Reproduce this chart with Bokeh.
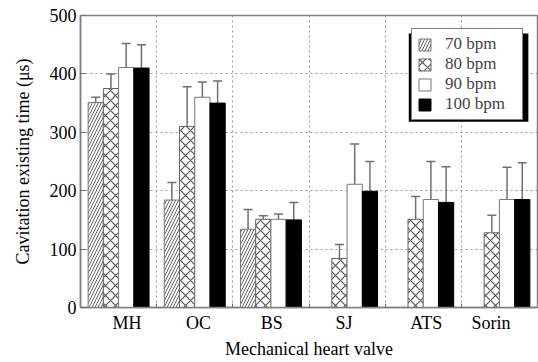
import numpy as np
from bokeh.plotting import figure
from bokeh.models import (ColumnDataSource, FixedTicker, Legend, LegendItem, Whisker,
                          TeeHead, Range1d, BoxAnnotation)
from bokeh.embed import file_html
from bokeh.resources import INLINE

valves = ["MH", "OC", "BS", "SJ", "ATS", "Sorin"]
label_pos = [0.61, 1.55, 2.51, 3.46, 4.54, 5.39]
series_names = ["70 bpm", "80 bpm", "90 bpm", "100 bpm"]
bpm70 = [351, 184, 134, np.nan, np.nan, np.nan]
bpm70_up = [360, 214, 168, np.nan, np.nan, np.nan]
bpm80 = [375, 310, 151, 84, 151, 128]
bpm80_up = [400, 378, 157, 108, 190, 158]
bpm90 = [411, 360, 151, 211, 185, 185]
bpm90_up = [452, 386, 160, 280, 250, 240]
bpm100 = [410, 350, 150, 199, 180, 185]
bpm100_up = [450, 388, 180, 250, 241, 248]
y_ticks = [0, 100, 200, 300, 400, 500]

FONT = "Liberation Serif"

p = figure(width=538, height=362, output_backend="svg", toolbar_location=None,
           x_range=Range1d(0, 6), y_range=Range1d(0, 500),
           min_border_left=80, min_border_right=1, min_border_top=15, min_border_bottom=55)
p.background_fill_color = "white"
p.border_fill_color = "white"
p.outline_line_color = "#808080"
p.outline_line_width = 1.5

styles = [
    dict(fill_color="white", hatch_pattern="/", hatch_color="#666666", hatch_scale=6, hatch_weight=1, line_color="#777777"),
    dict(fill_color="white", hatch_pattern="x", hatch_color="#555555", hatch_scale=10, hatch_weight=1.2, line_color="#666666"),
    dict(fill_color="white", line_color="#777777"),
    dict(fill_color="black", line_color="black"),
]
series = [(bpm70, bpm70_up), (bpm80, bpm80_up), (bpm90, bpm90_up), (bpm100, bpm100_up)]
offsets = [0.2, 0.4, 0.6, 0.8]
bar_w = 0.2

renderers = []
for k, ((vals, ups), st) in enumerate(zip(series, styles)):
    xs = [i + offsets[k] for i in range(len(valves))]
    src = ColumnDataSource(dict(x=xs, top=vals, up=ups))
    r = p.vbar(x="x", top="top", bottom=0, width=bar_w, source=src, line_width=1, **st)
    renderers.append(r)
    w = Whisker(base="x", lower="top", upper="up", source=src, dimension="height",
                line_color="#707070", line_width=1.5,
                upper_head=TeeHead(size=9, line_color="#707070", line_width=1.5),
                lower_head=None)
    p.add_layout(w)

# grids
p.xgrid.ticker = FixedTicker(ticks=[1, 2, 3, 4, 5])
p.ygrid.ticker = FixedTicker(ticks=[100, 200, 300, 400])
for g in (p.xgrid, p.ygrid):
    g.grid_line_color = "#9a9a9a"
    g.grid_line_dash = "2 3"
    g.grid_line_width = 1

# axes
p.xaxis.ticker = FixedTicker(ticks=label_pos, minor_ticks=[1, 2, 3, 4, 5])
p.xaxis.major_label_overrides = {pos: name for pos, name in zip(label_pos, valves)}
p.xaxis.major_tick_in = 0
p.xaxis.major_tick_out = 0
p.xaxis.minor_tick_in = 4
p.xaxis.minor_tick_out = 0
p.xaxis.minor_tick_line_color = "#707070"
p.xaxis.axis_label = "Mechanical heart valve"
p.xaxis.major_label_standoff = 5
p.xaxis.axis_label_standoff = 3

p.yaxis.ticker = FixedTicker(ticks=y_ticks)
p.yaxis.major_tick_in = 5
p.yaxis.major_tick_out = 0
p.yaxis.minor_tick_line_color = None
p.yaxis.major_tick_line_color = "#707070"
p.yaxis.axis_label = "Cavitation existing time (\u03bcs)"
p.yaxis.major_label_standoff = 4
p.yaxis.axis_label_standoff = 14

for ax in (p.xaxis[0], p.yaxis[0]):
    ax.axis_line_color = "#808080"
    ax.axis_line_width = 1.5
    ax.major_label_text_font = FONT
    ax.major_label_text_font_size = "18px"
    ax.major_label_text_color = "black"
    ax.axis_label_text_font = FONT
    ax.axis_label_text_font_size = "18px"
    ax.axis_label_text_font_style = "normal"
    ax.axis_label_text_color = "black"

# legend shadow
shadow = BoxAnnotation(left=4.31, right=5.88, top=469, bottom=318,
                       fill_color="black", fill_alpha=1, line_color=None, level="annotation")
p.add_layout(shadow)

legend = Legend(items=[LegendItem(label=n, renderers=[r]) for n, r in zip(series_names, renderers)],
                location=(331, 187), margin=0, padding=5, spacing=0,
                glyph_width=15, glyph_height=15, label_height=17, label_width=72,
                label_standoff=13, label_text_line_height=1.0,
                label_text_font=FONT, label_text_font_size="17px",
                border_line_color="black", border_line_width=1.5,
                background_fill_color="white", background_fill_alpha=1)
p.add_layout(legend, "center")

open("out.html", "w").write(file_html(p, INLINE))
